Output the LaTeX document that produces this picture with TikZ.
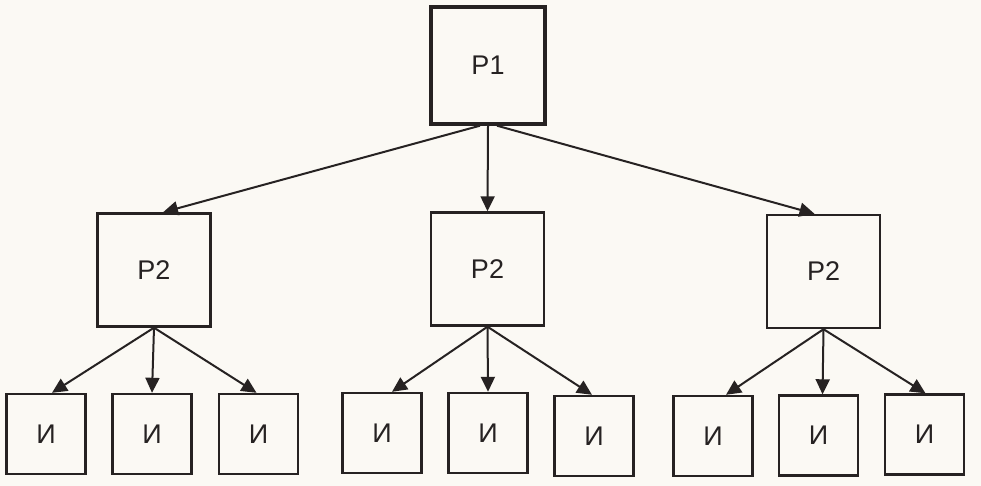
\documentclass[tikz,border=0pt]{standalone}
\usepackage{fontspec}
\setmainfont{Liberation Sans}
\usetikzlibrary{arrows.meta}
\definecolor{ink}{RGB}{38,34,34}
\definecolor{paper}{RGB}{251,249,244}
\tikzset{
  box/.style={draw=ink, line width=2.4pt, inner sep=0pt, minimum width=#1, minimum height=#1,
              font=\fontsize{27}{32}\selectfont, text=ink},
  box/.default=113pt,
  topbox/.style={box, line width=3.4pt, minimum width=114pt, minimum height=117pt},
  leaf/.style={box, minimum width=79pt, minimum height=80pt},
  arr/.style={draw=ink, line width=2pt, -{Triangle[length=15pt,width=14pt]}}
}
\begin{document}
\begin{tikzpicture}[x=1pt,y=-1pt]
\fill[paper] (0,0) rectangle (981,486);
\useasboundingbox (0,0) rectangle (981,486);
\node[topbox] (p1) at (488,65.5) {P1};
\node[box] (q1) at (154,270) {P2};
\node[box] (q2) at (487.5,269) {P2};
\node[box] (q3) at (823.5,271.5) {P2};
\node[leaf] (a1) at (46,434) {И};
\node[leaf] (a2) at (152,434) {И};
\node[leaf] (a3) at (258.5,434) {И};
\node[leaf] (b1) at (382,433) {И};
\node[leaf] (b2) at (488,433) {И};
\node[leaf] (b3) at (594,436) {И};
\node[leaf] (c1) at (713,436) {И};
\node[leaf] (c2) at (818.5,435.5) {И};
\node[leaf] (c3) at (924.5,434.5) {И};
\draw[arr] ([xshift=-8pt]p1.south) -- ([xshift=9pt]q1.north);
\draw[arr] (p1.south) -- (q2.north);
\draw[arr] ([xshift=9pt]p1.south) -- ([xshift=-9pt]q3.north);
\draw[arr] (q1.south) -- ([xshift=6pt]a1.north);
\draw[arr] (q1.south) -- (a2.north);
\draw[arr] (q1.south) -- ([xshift=-2pt]a3.north);
\draw[arr] (q2.south) -- ([xshift=10pt]b1.north);
\draw[arr] (q2.south) -- (b2.north);
\draw[arr] (q2.south) -- ([xshift=-2pt]b3.north);
\draw[arr] (q3.south) -- ([xshift=13pt]c1.north);
\draw[arr] (q3.south) -- ([xshift=4pt]c2.north);
\draw[arr] (q3.south) -- ([xshift=1pt]c3.north);
\end{tikzpicture}
\end{document}
